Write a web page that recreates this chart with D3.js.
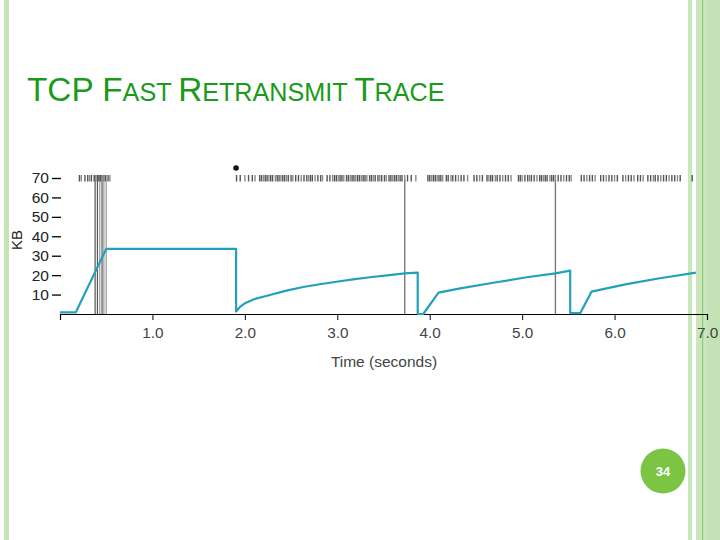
<!DOCTYPE html>
<html>
<head>
<meta charset="utf-8">
<script src="https://cdn.jsdelivr.net/npm/d3@7"></script>
<style>
  html, body { margin: 0; padding: 0; background: #fff; }
  svg { display: block; font-family: "Liberation Sans", Arial, sans-serif; }
</style>
</head>
<body>
<script>
// ---------------- data ----------------
const xTicks = [1, 2, 3, 4, 5, 6, 7];
const xTickLabels = ["1.0", "2.0", "3.0", "4.0", "5.0", "6.0", "7.0"];
const yTicks = [10, 20, 30, 40, 50, 60, 70];

// congestion window trace (time in s, KB)
const cwndTime = [0, 0.17, 0.50, 1.905, 1.905, 1.95, 2.00, 2.10, 2.27, 2.45, 2.63, 2.81, 2.99, 3.17, 3.35, 3.54, 3.73, 3.87, 3.87, 3.93, 4.095, 4.33, 4.69, 5.05, 5.36, 5.52, 5.52, 5.63, 5.75, 6.13, 6.49, 6.88];
const cwndKB   = [0.8, 0.8, 33.5, 33.5, 1.3, 3.8, 5.5, 7.6, 9.8, 12.0, 13.9, 15.3, 16.6, 17.8, 18.9, 19.9, 20.9, 21.3, 0.0, 0.0, 11.0, 13.2, 16.1, 18.9, 20.9, 22.3, 0.5, 0.5, 11.5, 15.4, 18.4, 21.3];

// packet send marks (time in s)
const sendTimes = [
  0.21, 0.23, 0.27, 0.30, 0.32, 0.34, 0.37, 0.39, 0.42, 0.44, 0.47, 0.49, 0.52, 0.54,
  1.91, 1.95, 2.00, 2.04, 2.08, 2.11, 2.16, 2.18, 2.20, 2.22, 2.24, 2.26, 2.28, 2.30, 2.33, 2.35,
  2.37, 2.39, 2.41, 2.43, 2.45, 2.47, 2.50, 2.52, 2.55, 2.58, 2.61, 2.64, 2.67, 2.69, 2.71, 2.73,
  2.76, 2.79, 2.82, 2.84, 2.89, 2.92, 2.95, 2.97, 2.99, 3.01, 3.03, 3.05, 3.07, 3.10, 3.12, 3.14,
  3.16, 3.18, 3.20, 3.22, 3.24, 3.26, 3.28, 3.30, 3.32, 3.35, 3.37, 3.39, 3.41, 3.44, 3.46, 3.48,
  3.51, 3.53, 3.56, 3.58, 3.60, 3.62, 3.64, 3.66, 3.68, 3.70, 3.73, 3.76, 3.80, 3.85,
  3.98, 4.00, 4.02, 4.04, 4.06, 4.08, 4.10, 4.12, 4.14, 4.18, 4.20, 4.23, 4.25, 4.28, 4.31, 4.34,
  4.37, 4.41, 4.48, 4.51, 4.54, 4.57, 4.62, 4.64, 4.66, 4.68, 4.71, 4.73, 4.76, 4.79, 4.82, 4.85,
  4.88, 4.96, 4.98, 5.00, 5.03, 5.06, 5.08, 5.10, 5.13, 5.16, 5.19, 5.21, 5.23, 5.25, 5.27, 5.30,
  5.32, 5.34, 5.36, 5.39, 5.42, 5.45, 5.48, 5.51, 5.53,
  5.64, 5.67, 5.70, 5.73, 5.76, 5.79, 5.85, 5.88, 5.91, 5.94, 5.97, 6.00, 6.03, 6.09, 6.12, 6.15,
  6.18, 6.21, 6.25, 6.28, 6.31, 6.36, 6.39, 6.42, 6.44, 6.47, 6.50, 6.53, 6.56, 6.59, 6.62, 6.65,
  6.68, 6.71, 6.84
];

// timeout marker (dot) and retransmit/drop lines (time in s)
const timeoutTimes = [1.905];
const dropLineTimes = [0.38, 0.405, 0.43, 0.455, 0.475, 0.50];
const retransLineTimes = [3.73, 5.36];

// ---------------- drawing ----------------
const W = 720, H = 540;
const svg = d3.select("body").append("svg").attr("width", W).attr("height", H);

// slide decoration
svg.append("rect").attr("x", 4).attr("y", 0).attr("width", 5).attr("height", H).attr("fill", "#c6e5b6");
svg.append("rect").attr("x", 688).attr("y", 0).attr("width", 4).attr("height", H).attr("fill", "#c8e7bb");
svg.append("rect").attr("x", 696).attr("y", 0).attr("width", 24).attr("height", H).attr("fill", "#c9e6bd");
svg.append("rect").attr("x", 707).attr("y", 0).attr("width", 13).attr("height", H).attr("fill", "#c3e2b5");
svg.append("rect").attr("x", 702).attr("y", 0).attr("width", 1.2).attr("height", H).attr("fill", "#93cd72");

// title (small caps)
const title = svg.append("text").attr("x", 27).attr("y", 101).attr("fill", "#1b9a1b");
[["TCP F", 33.3], ["AST ", 25.2], ["R", 33.3], ["ETRANSMIT ", 25.2], ["T", 33.3], ["RACE", 25.2]]
  .forEach(([t, s]) => title.append("tspan").attr("font-size", s).text(t));

// scales
const x = d3.scaleLinear().domain([0, 7]).range([60, 707]);
const y = d3.scaleLinear().domain([0, 70]).range([314, 178]);

// x axis
const xAxis = svg.append("g").attr("transform", "translate(0,314)")
  .call(d3.axisBottom(x).tickValues(xTicks).tickFormat((d, i) => xTickLabels[i]).tickSizeOuter(0).tickSize(6).tickPadding(7));
xAxis.select(".domain").attr("stroke", "#000").attr("stroke-width", 1.2);
xAxis.selectAll(".tick line").attr("stroke", "#000");
xAxis.selectAll(".tick text").attr("font-size", 15.3).attr("fill", "#444").attr("font-family", "Liberation Sans, Arial, sans-serif");

svg.append("text").attr("x", 384).attr("y", 367).attr("text-anchor", "middle")
  .attr("font-size", 15.5).attr("fill", "#444").text("Time (seconds)");

// y axis (ticks only, no spine)
const yAxis = svg.append("g").attr("transform", "translate(61,0)")
  .call(d3.axisLeft(y).tickValues(yTicks).tickSize(9).tickSizeOuter(0).tickPadding(3));
yAxis.select(".domain").remove();
yAxis.selectAll(".tick line").attr("stroke", "#000").attr("stroke-width", 1.3);
yAxis.selectAll(".tick text").attr("font-size", 15.5).attr("fill", "#222").attr("font-family", "Liberation Sans, Arial, sans-serif");

svg.append("text").attr("transform", "translate(22,240) rotate(-90)").attr("text-anchor", "middle")
  .attr("font-size", 15).attr("fill", "#222").text("KB");

// drop lines (early burst)
svg.append("g").selectAll("line").data(dropLineTimes).join("line")
  .attr("x1", d => x(d)).attr("x2", d => x(d))
  .attr("y1", 175).attr("y2", 314)
  .attr("stroke", (d, i) => (i === 0 || i === 1 || i === 3) ? "#555" : "#999")
  .attr("stroke-width", 1.2);

// retransmit lines
svg.append("g").selectAll("line").data(retransLineTimes).join("line")
  .attr("x1", d => x(d)).attr("x2", d => x(d))
  .attr("y1", 180).attr("y2", 314)
  .attr("stroke", "#7a7a7a").attr("stroke-width", 1.4);

// packet send marks
svg.append("g").selectAll("line").data(sendTimes).join("line")
  .attr("x1", d => x(d)).attr("x2", d => x(d))
  .attr("y1", 175).attr("y2", 181.5)
  .attr("stroke", (d, i) => i % 3 === 1 ? "#8a8a8a" : "#555")
  .attr("stroke-width", 1.4);

// timeout dot
svg.append("g").selectAll("circle").data(timeoutTimes).join("circle")
  .attr("cx", d => x(d)).attr("cy", 168).attr("r", 2.8).attr("fill", "#111");

// cwnd line
const cwnd = cwndTime.map((t, i) => [t, cwndKB[i]]);
svg.append("path").datum(cwnd)
  .attr("fill", "none").attr("stroke", "#23a0ba").attr("stroke-width", 2.2)
  .attr("stroke-linejoin", "round")
  .attr("d", d3.line().x(d => x(d[0])).y(d => y(d[1])));

// slide number
svg.append("circle").attr("cx", 663).attr("cy", 471).attr("r", 22.5).attr("fill", "#7cc443");
svg.append("text").attr("x", 663).attr("y", 475.5).attr("text-anchor", "middle")
  .attr("font-size", 13).attr("font-weight", "bold").attr("fill", "#fff").text("34");
</script>
</body>
</html>
